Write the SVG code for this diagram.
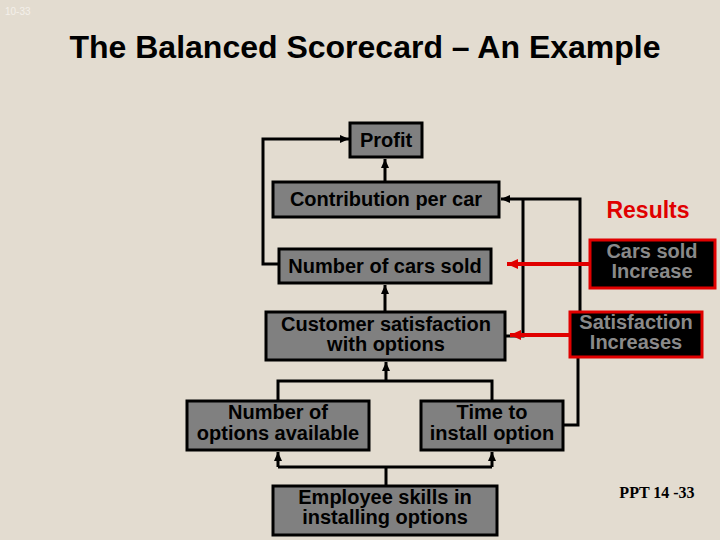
<svg xmlns="http://www.w3.org/2000/svg" width="720" height="540" viewBox="0 0 720 540">
<style>
.bg{fill:#E3DCD0}
.node{fill:#808080;stroke:#000;stroke-width:3}
.res{fill:#000;stroke:#E00000;stroke-width:3}
.t{font-family:"Liberation Sans",Arial,sans-serif;font-weight:bold;font-size:20px;text-anchor:middle;fill:#000}
.rt{font-family:"Liberation Sans",Arial,sans-serif;font-weight:bold;font-size:20px;text-anchor:middle;fill:#8A8A8A}
.c{fill:none;stroke:#000;stroke-width:3}
.r{fill:none;stroke:#E00000;stroke-width:4}
</style>
<defs>
<marker id="ab" markerUnits="userSpaceOnUse" markerWidth="10" markerHeight="10" refX="9" refY="5" orient="auto">
<path d="M0,1 L9,5 L0,9 Z" fill="#000"/>
</marker>
<marker id="ar" markerUnits="userSpaceOnUse" markerWidth="12" markerHeight="12" refX="11" refY="6" orient="auto">
<path d="M0,1 L11,6 L0,11 Z" fill="#E00000"/>
</marker>
</defs>
<rect class="bg" x="0" y="0" width="720" height="540"/>
<text x="5" y="15" font-family="'Liberation Sans',Arial,sans-serif" font-size="10" fill="#F4F0EA">10-33</text>
<text x="365" y="58" font-family="'Liberation Sans',Arial,sans-serif" font-weight="bold" font-size="32" text-anchor="middle" fill="#000">The Balanced Scorecard – An Example</text>
<g id="connectors">
<path class="c" d="M385,182 V159" marker-end="url(#ab)"/>
<path class="c" d="M279,264 H263 V139 H349" marker-end="url(#ab)"/>
<path class="c" d="M385,312 V285" marker-end="url(#ab)"/>
<path class="c" d="M580,312 V199 H501" marker-end="url(#ab)"/>
<path class="c" d="M505,336 H523 V199"/>
<path class="c" d="M278,401 V381 H492 V401"/>
<path class="c" d="M386,381 V362" marker-end="url(#ab)"/>
<path class="c" d="M386,486 V467"/>
<path class="c" d="M278,467 H492"/>
<path class="c" d="M278,467 V452" marker-end="url(#ab)"/>
<path class="c" d="M492,467 V452" marker-end="url(#ab)"/>
<path class="c" d="M563,425 H578 V357"/>
<path class="r" d="M590,264 H507" marker-end="url(#ar)"/>
<path class="r" d="M570,335 H510" marker-end="url(#ar)"/>
</g>
<g id="profit"><rect class="node" x="350" y="123" width="72" height="34"/><text class="t" x="386" y="147">Profit</text></g>
<g id="contribution"><rect class="node" x="273" y="182" width="226" height="35"/><text class="t" x="386" y="206">Contribution per car</text></g>
<g id="carsSold"><rect class="node" x="279" y="249" width="212" height="34"/><text class="t" x="385" y="273">Number of cars sold</text></g>
<g id="custSat"><rect class="node" x="266" y="312" width="239" height="48"/><text class="t" x="386" y="331">Customer satisfaction</text><text class="t" x="386" y="351">with options</text></g>
<g id="numOptions"><rect class="node" x="187" y="401" width="182" height="49"/><text class="t" x="278" y="419">Number of</text><text class="t" x="278" y="440">options available</text></g>
<g id="timeInstall"><rect class="node" x="421" y="401" width="142" height="49"/><text class="t" x="492" y="419">Time to</text><text class="t" x="492" y="440">install option</text></g>
<g id="employee"><rect class="node" x="273" y="486" width="224" height="49"/><text class="t" x="385" y="504">Employee skills in</text><text class="t" x="385" y="524">installing options</text></g>
<g id="results"><text x="648" y="218" font-family="'Liberation Sans',Arial,sans-serif" font-weight="bold" font-size="23" text-anchor="middle" fill="#E00000">Results</text></g>
<g id="carsIncrease"><rect class="res" x="590" y="240" width="125" height="48"/><text class="rt" x="652" y="258">Cars sold</text><text class="rt" x="652" y="278">Increase</text></g>
<g id="satIncrease"><rect class="res" x="570" y="312" width="132" height="45"/><text class="rt" x="636" y="329">Satisfaction</text><text class="rt" x="636" y="349">Increases</text></g>
<text x="657" y="498" font-family="'Liberation Serif','Times New Roman',serif" font-weight="bold" font-size="16" text-anchor="middle" fill="#000">PPT 14 -33</text>
</svg>
